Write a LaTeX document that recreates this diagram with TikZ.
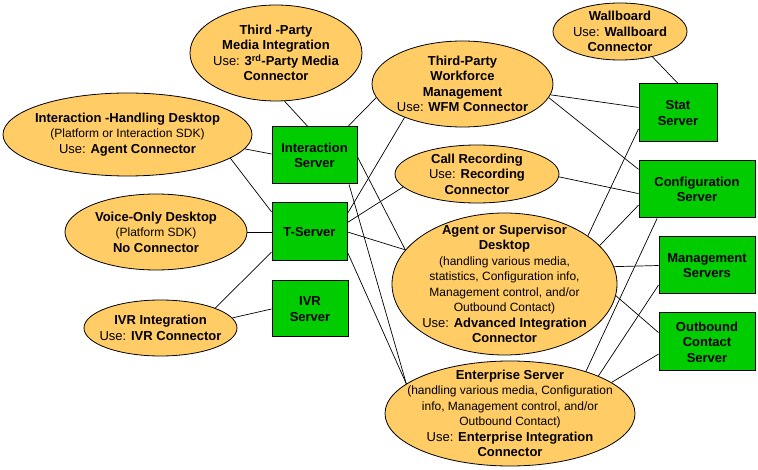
\documentclass[tikz,border=0pt]{standalone}
\usepackage{fontspec}
\setmainfont{Liberation Sans}
\usetikzlibrary{shapes.geometric}
\definecolor{ellfill}{HTML}{FFCC66}
\definecolor{boxfill}{HTML}{00CC00}
\newcommand\smtxt[1]{{\fontsize{12}{15.5}\selectfont #1}}
\begin{document}
\begin{tikzpicture}[x=1pt,y=-1pt,
  ell/.style={ellipse, draw=black, line width=0.8pt, fill=ellfill, inner sep=0pt},
  txt/.style={align=center, font=\fontsize{13}{15.5}\selectfont, inner sep=0pt},
  srv/.style={rectangle, draw=black, line width=1pt, fill=boxfill, inner sep=0pt,
              align=center, font=\fontsize{13}{15.5}\selectfont\bfseries},
  conn/.style={draw=black, line width=0.7pt}]
\useasboundingbox (0,0) rectangle (758,470);
\fill[white] (0,0) rectangle (758,470);

% ellipses
\node[ell, minimum width=172, minimum height=96] (tpm) at (276,53) {};
\node[ell, minimum width=249, minimum height=83] (ihd) at (127.5,134.5) {};
\node[ell, minimum width=182, minimum height=76] (vod) at (156,232) {};
\node[ell, minimum width=153, minimum height=56] (ivr) at (160.5,328) {};
\node[ell, minimum width=181, minimum height=86] (wfm) at (462.5,84) {};
\node[ell, minimum width=134, minimum height=57] (wb) at (620,31.5) {};
\node[ell, minimum width=164, minimum height=58] (cr) at (477,174) {};
\node[ell, minimum width=225, minimum height=142] (asd) at (504.5,284) {};
\node[ell, minimum width=250, minimum height=105] (es) at (510,413.5) {};

% ellipse texts
\node[txt] (tpm-t) at (tpm) {\textbf{Third -Party}\\\textbf{Media Integration}\\Use: \textbf{3\textsuperscript{rd}-Party Media}\\\textbf{Connector}};
\node[txt] (ihd-t) at (ihd) {\textbf{Interaction -Handling Desktop}\\\smtxt{(Platform or Interaction SDK)}\\Use: \textbf{Agent Connector}};
\node[txt] (vod-t) at (vod) {\textbf{Voice-Only Desktop}\\\smtxt{(Platform SDK)}\\\textbf{No Connector}};
\node[txt] (ivr-t) at (ivr) {\textbf{IVR Integration}\\Use: \textbf{IVR Connector}};
\node[txt] (wfm-t) at (wfm) {\textbf{Third-Party}\\\textbf{Workforce}\\\textbf{Management}\\Use: \textbf{WFM Connector}};
\node[txt] (wb-t) at (wb) {\textbf{Wallboard}\\Use: \textbf{Wallboard}\\\textbf{Connector}};
\node[txt] (cr-t) at (cr) {\textbf{Call Recording}\\Use: \textbf{Recording}\\\textbf{Connector}};
\node[txt] (asd-t) at (asd) {\textbf{Agent or Supervisor}\\\textbf{Desktop}\\\smtxt{(handling various media,}\\\smtxt{statistics, Configuration info,}\\\smtxt{Management control, and/or}\\\smtxt{Outbound Contact)}\\Use: \textbf{Advanced Integration}\\\textbf{Connector}};
\node[txt] (es-t) at (es) {\textbf{Enterprise Server}\\\smtxt{(handling various media, Configuration}\\\smtxt{info, Management control, and/or}\\\smtxt{Outbound Contact)}\\Use: \textbf{Enterprise Integration}\\\textbf{Connector}};

% servers
\node[srv, minimum width=85, minimum height=57] (is) at (314.5,155.5) {Interaction\\Server};
\node[srv, minimum width=75, minimum height=58] (ts) at (309.5,232) {T-Server};
\node[srv, minimum width=76, minimum height=56] (ivrs) at (310,309) {IVR\\Server};
\node[srv, minimum width=78, minimum height=58] (ss) at (678,113) {Stat\\Server};
\node[srv, minimum width=116, minimum height=57] (cs) at (697,189.5) {Configuration\\Server};
\node[srv, minimum width=96, minimum height=57] (ms) at (707,265.5) {Management\\Servers};
\node[srv, minimum width=96, minimum height=58] (ocs) at (707,342) {Outbound\\Contact\\Server};

% connectors (left / middle)
\draw[conn] (tpm.-80) -- (is.103);
\draw[conn] (wfm.189.3) -- (is.41.2);
\draw[conn] (ihd.-7.5) -- (is.178);
\draw[conn] (ihd.-13.4) -- (ts.152);
\draw[conn] (vod.0) -- (ts.180);
\draw[conn] (ivr.20.9) -- (ts.208);
\draw[conn] (ivr.8.5) -- (ivrs.180);
\draw[conn] (ts.26.9) -- (wfm.210.6);
\draw[conn] (ts.14.9) -- (cr.190);
\draw[conn] (ts.0) -- (asd.161.5);
\draw[conn] (ts.-28) -- (es.164.8);
\draw[conn] (is.-2) -- (asd.161.5);
\draw[conn] (is.-40.4) -- (es.164.8);

% connectors (right)
\draw[conn] (wb.-38.2) -- (ss.90);
\draw[conn] (wfm.-7.1) -- (ss.172.7);
\draw[conn] (wfm.-9) -- (cs.161.4);
\draw[conn] (cr.-2.1) -- (cs.184.4);
\draw[conn] (asd.30.7) -- (ss.202.3);
\draw[conn] (asd.22.1) -- (cs.195.9);
\draw[conn] (asd.9.6) -- (ms.180);
\draw[conn] (asd.-6.7) -- (ocs.169.4);
\draw[conn] (es.29.5) -- (cs.216.2);
\draw[conn] (es.23.2) -- (ms.202.1);
\draw[conn] (es.17.2) -- (ocs.194);
\end{tikzpicture}
\end{document}
